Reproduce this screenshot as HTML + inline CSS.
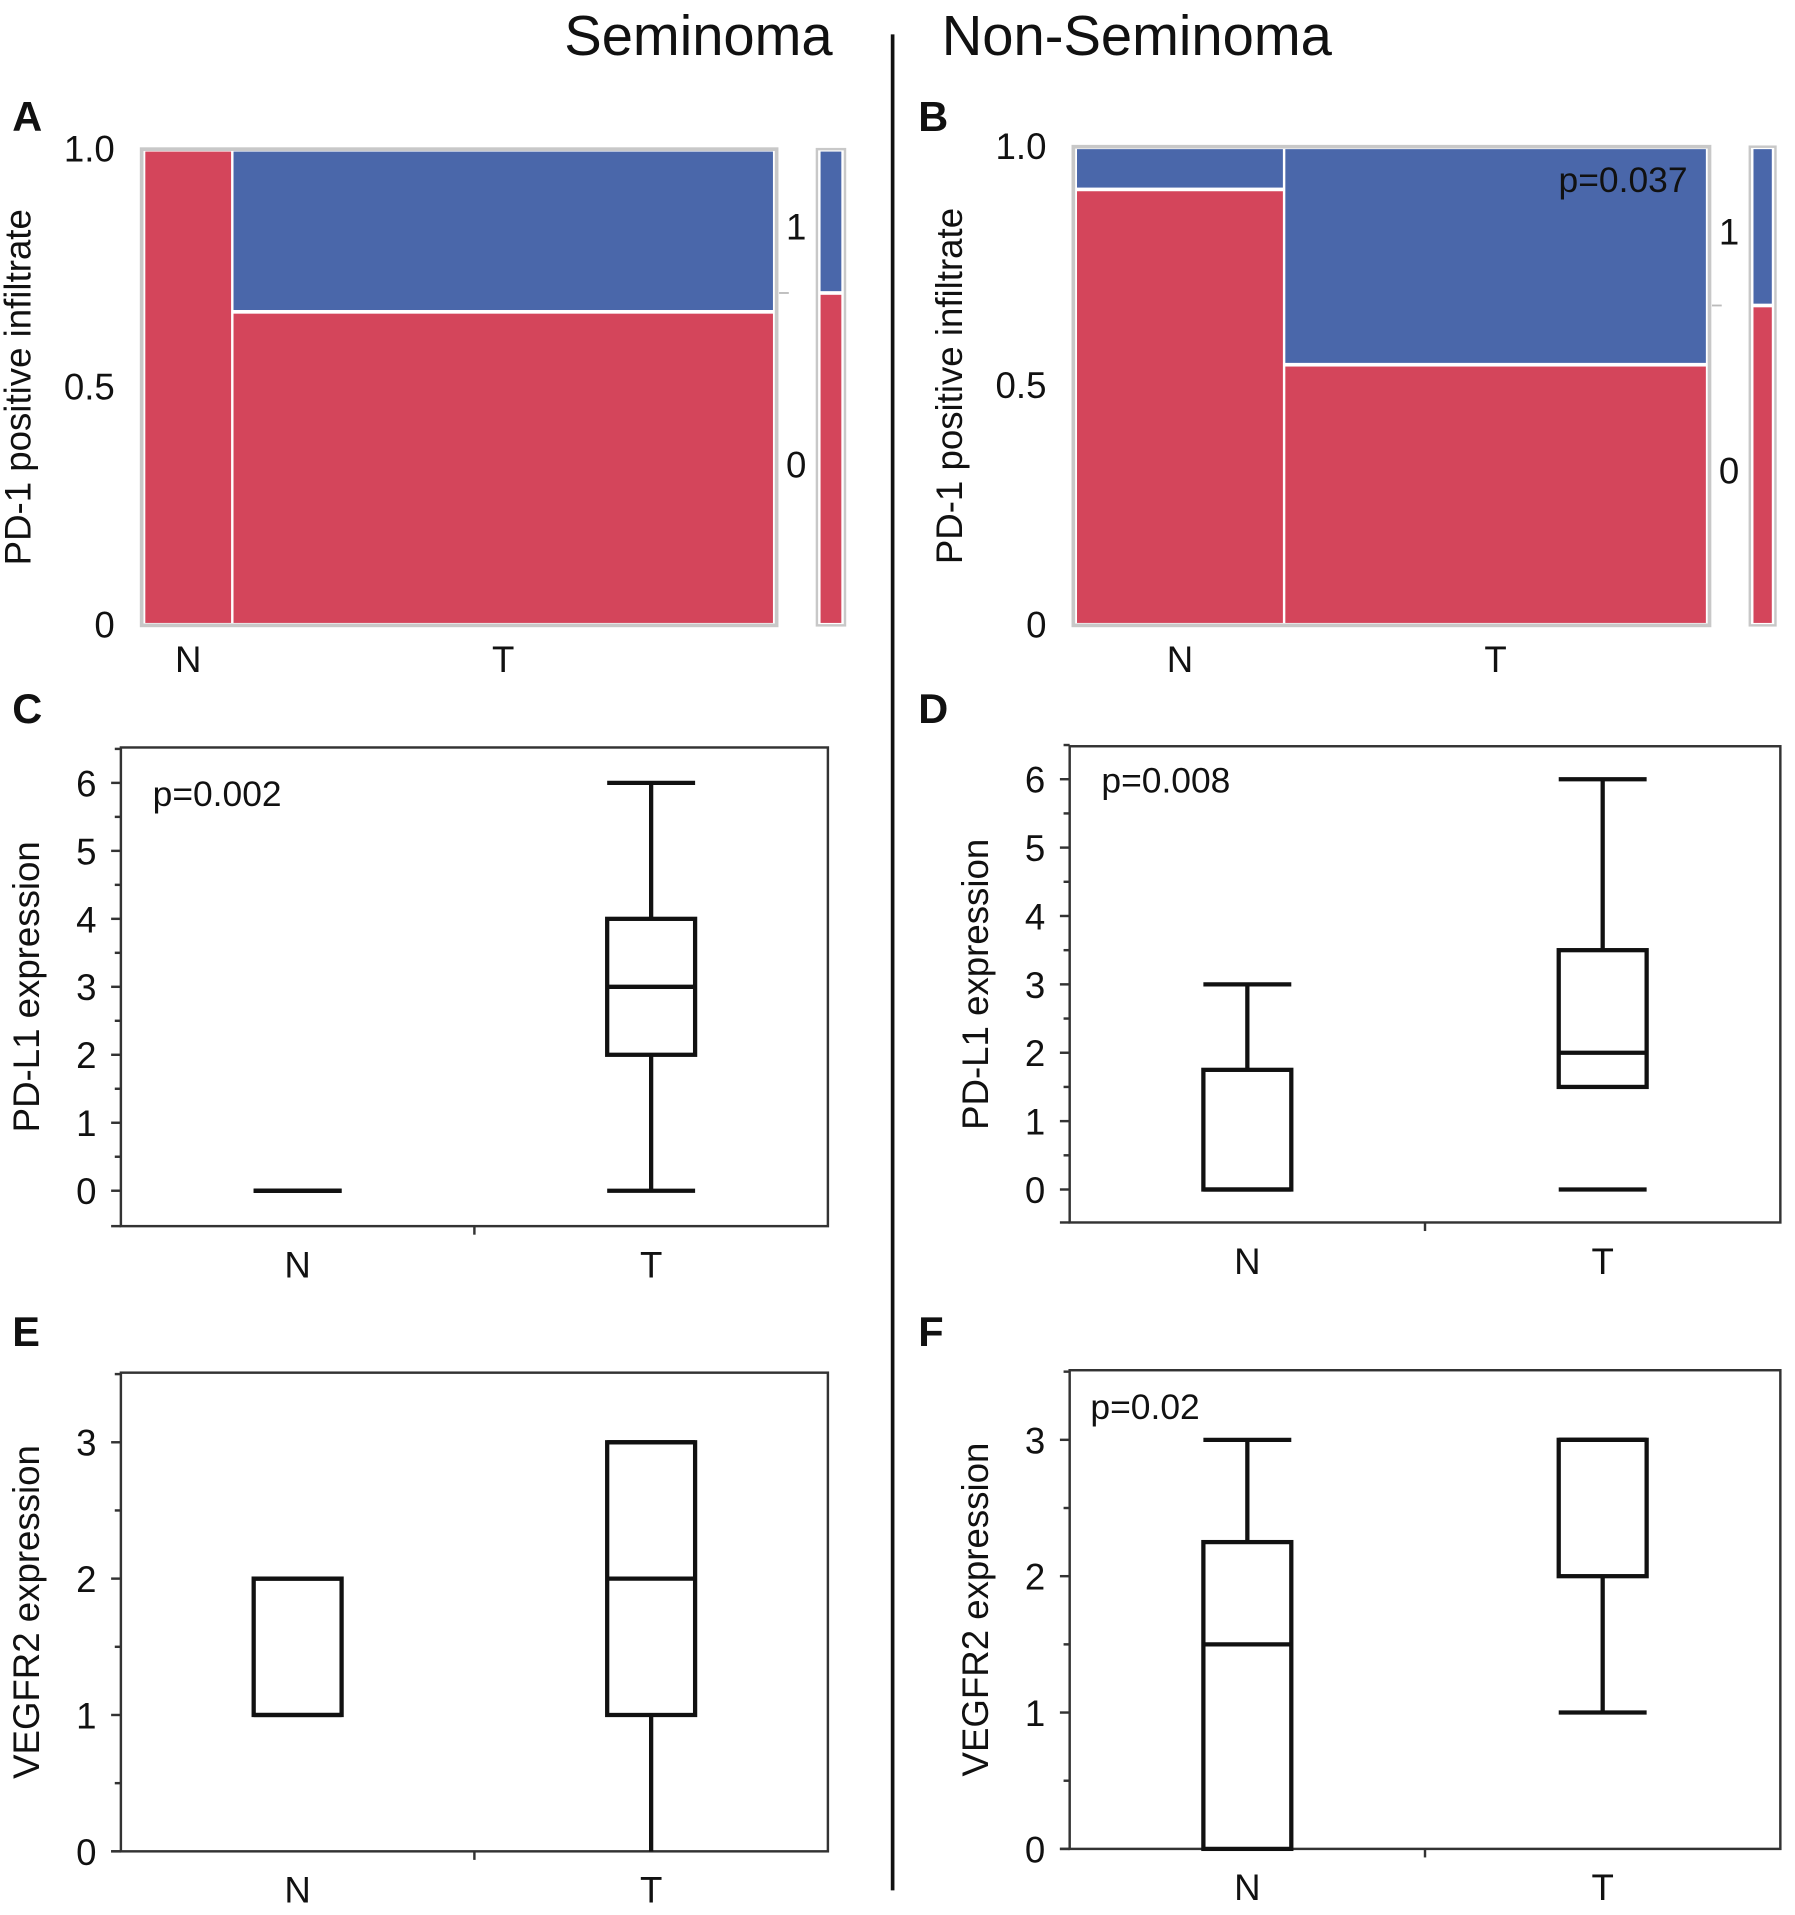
<!DOCTYPE html>
<html><head><meta charset="utf-8"><style>
html,body{margin:0;padding:0;background:#fff}
svg{display:block}
text{font-family:"Liberation Sans",Arial,sans-serif;fill:#111}
</style></head><body>
<svg id="fig" width="1795" height="1915" viewBox="0 0 1470 1568" xmlns="http://www.w3.org/2000/svg">
<text x="572" y="45" font-size="46" text-anchor="middle">Seminoma</text>
<text x="931" y="45" font-size="46" text-anchor="middle">Non-Seminoma</text>
<line x1="731" y1="28" x2="731" y2="1548" stroke="#111" stroke-width="3"/>
<text x="10" y="107" font-size="34" font-weight="bold">A</text>
<text x="752" y="107" font-size="34" font-weight="bold">B</text>
<text x="10" y="592" font-size="34" font-weight="bold">C</text>
<text x="752" y="592" font-size="34" font-weight="bold">D</text>
<text x="10" y="1102" font-size="34" font-weight="bold">E</text>
<text x="752" y="1102" font-size="34" font-weight="bold">F</text>
</svg>
<script>
// Mosaic data: fraction of samples in N column, blue (1) share per column, overall blue share
const mosaicGroups = ['N','T'];
const mosaicA_widthN = 0.14;
const mosaicA_blue = [0.0, 0.34];
const mosaicA_overall = 0.30;
const mosaicB_widthN = 0.33;
const mosaicB_blue = [0.085, 0.455];
const mosaicB_overall = 0.33;
const mosaicTicks = ['0','0.5','1.0'];
const mosaicTickVals = [0,0.5,1];

// Box plot data: [min whisker, q1, median, q3, max whisker]
const boxCats = ['N','T'];
const boxC_N = [0,0,0,0,0];
const boxC_T = [0,2,3,4,6];
const boxD_N = [0,0,0,1.75,3];
const boxD_T = [0,1.5,2,3.5,6];
const boxE_N = [1,1,1,2,2];
const boxE_T = [0,1,2,3,3];
const boxF_N = [0,0,1.5,2.25,3];
const boxF_T = [1,2,3,3,3];
const ticksPDL1 = [0,1,2,3,4,5,6];
const ticksVEGF = [0,1,2,3];

const NS='http://www.w3.org/2000/svg';
const svg=document.getElementById('fig');
function mk(tag,attrs,parent){const e=document.createElementNS(NS,tag);for(const k in attrs)e.setAttribute(k,attrs[k]);(parent||svg).appendChild(e);return e;}

function mosaic(o){
  const g=mk('g',{});
  
  
  const y=v=>o.y1-(o.y1-o.y0)*v;
  const W=o.x1-o.x0;
  mk('rect',{x:o.x0,y:o.y0,width:W,height:o.y1-o.y0,fill:'#fff',stroke:'#c8c8c8','stroke-width':3},g);
  const widths=[o.wN,1-o.wN];
  let cx=o.x0+2;
  const inner=W-4;
  for(let i=0;i<2;i++){
    const w=inner*widths[i];
    const b=o.blue[i];
    const yTop=o.y0+2, yBot=o.y1-2, H=yBot-yTop;
    const ySplit=yTop+H*b;
    if(b>0){const r=mk('rect',{x:cx+1,y:yTop,width:w-2,height:ySplit-yTop-1.5,fill:'#4a67aa'},g);
      
      }
    const r2=mk('rect',{x:cx+1,y:ySplit+(b>0?1.5:0),width:w-2,height:yBot-ySplit-(b>0?1.5:0),fill:'#d4455b'},g);
    
    
    const t=mk('text',{x:cx+w/2,y:550,'font-size':30,'text-anchor':'middle'},g);t.textContent=mosaicGroups[i];
    
    
    cx+=w;
  }
  mk('rect',{x:o.sx,y:o.y0,width:o.sw,height:o.y1-o.y0,fill:'#fff',stroke:'#c8c8c8','stroke-width':2},g);
  const sH=o.y1-o.y0-4, sSplit=o.y0+2+sH*o.overall;
  const sb=mk('rect',{x:o.sx+3,y:o.y0+2,width:o.sw-6,height:sSplit-o.y0-3.5,fill:'#4a67aa'},g);
  
  
  const sr=mk('rect',{x:o.sx+3,y:sSplit+1.5,width:o.sw-6,height:o.y1-2-sSplit-1.5,fill:'#d4455b'},g);
  
  
  mk('line',{x1:o.x1+2,x2:o.x1+10,y1:sSplit,y2:sSplit,stroke:'#bbb','stroke-width':1.5},g);
  const l1=mk('text',{x:o.sx-17,y:(o.y0+sSplit)/2+15,'font-size':30,'text-anchor':'middle'},g);l1.textContent='1';
  const l0=mk('text',{x:o.sx-17,y:(sSplit+o.y1)/2+15,'font-size':30,'text-anchor':'middle'},g);l0.textContent='0';
  mosaicTickVals.forEach((v,i)=>{const t=mk('text',{x:o.x0-22,y:y(v)+10,'font-size':30,'text-anchor':'end'},g);t.textContent=mosaicTicks[i];});
  const at=mk('text',{transform:`translate(${o.x0-91},${(o.y0+o.y1)/2}) rotate(-90)`,'font-size':30,'text-anchor':'middle'},g);
  at.textContent='PD-1 positive infiltrate';
  
  
  if(o.p){const p=mk('text',{x:o.x1-18,y:o.y0+37,'font-size':29,'text-anchor':'end'},g);p.textContent=o.p;
    
    }
}
mosaic({name:'mosaic-a',x0:116,x1:636,y0:122,y1:512,wN:mosaicA_widthN,blue:mosaicA_blue,overall:mosaicA_overall,sx:669,sw:23});
mosaic({name:'mosaic-b',x0:879,x1:1400,y0:120,y1:512,wN:mosaicB_widthN,blue:mosaicB_blue,overall:mosaicB_overall,sx:1433,sw:21,p:'p=0.037'});

function boxplot(o){
  const g=mk('g',{});
  
  
  const y=v=>o.yZero-(o.yZero-o.yTopTick)*v/o.topTick;
  const x=i=>o.x0+(o.x1-o.x0)*(i===0?0.25:0.75);
  mk('rect',{x:o.x0,y:o.y0,width:o.x1-o.x0,height:o.y1-o.y0,fill:'none',stroke:'#333','stroke-width':2},g);
  for(let v=o.ticks[0]; v<=o.maxV+1e-9; v+=0.5){
    const major=Math.abs(v-Math.round(v))<1e-9 && v<=o.ticks[o.ticks.length-1];
    mk('line',{x1:o.x0-(major?8:5),x2:o.x0,y1:y(v),y2:y(v),stroke:'#333','stroke-width':2},g);
  }
  mk('line',{x1:o.x0-8,x2:o.x0,y1:o.y1,y2:o.y1,stroke:'#333','stroke-width':2},g);
  mk('line',{x1:(o.x0+o.x1)/2,x2:(o.x0+o.x1)/2,y1:o.y1,y2:o.y1+7,stroke:'#333','stroke-width':2},g);
  o.ticks.forEach(v=>{const t=mk('text',{x:o.x0-20,y:y(v)+11,'font-size':30,'text-anchor':'end'},g);t.textContent=String(v);});
  const at=mk('text',{transform:`translate(${o.x0-67},${(o.y0+o.y1)/2}) rotate(-90)`,'font-size':30,'text-anchor':'middle'},g);
  at.textContent=o.title;
  
  
  boxCats.forEach((c,i)=>{
    const t=mk('text',{x:x(i),y:o.y1+42,'font-size':30,'text-anchor':'middle'},g);t.textContent=c;
    
    
    const d=o.data[i], cx=x(i), hw=36;
    const bg=mk('g',{stroke:'#111','stroke-width':3.5,fill:'none'},g);
    
    
    if(d[4]>d[3]){mk('line',{x1:cx,x2:cx,y1:y(d[3]),y2:y(d[4])},bg);}
    mk('line',{x1:cx-hw,x2:cx+hw,y1:y(d[4]),y2:y(d[4])},bg);
    if(d[0]<d[1] && !o.noLowStem?.[i]){mk('line',{x1:cx,x2:cx,y1:y(d[1]),y2:y(d[0])},bg);}
    if(o.lowCap[i]) mk('line',{x1:cx-hw,x2:cx+hw,y1:y(d[0]),y2:y(d[0])},bg);
    if(d[3]>d[1]) mk('rect',{x:cx-hw,y:y(d[3]),width:2*hw,height:y(d[1])-y(d[3])},bg);
    mk('line',{x1:cx-hw,x2:cx+hw,y1:y(d[2]),y2:y(d[2])},bg);
  });
  if(o.p){const p=mk('text',{x:o.px,y:o.py,'font-size':29},g);p.textContent=o.p;
    
    }
}
boxplot({name:'boxplot-c',x0:99,x1:678,y0:612,y1:1004,yZero:975,yTopTick:641,topTick:6,maxV:6.5,ticks:ticksPDL1,title:'PD-L1 expression',data:[boxC_N,boxC_T],lowCap:[true,true],p:'p=0.002',px:125,py:660});
boxplot({name:'boxplot-d',x0:876,x1:1458,y0:611,y1:1001,yZero:974,yTopTick:638,topTick:6,maxV:6.5,ticks:ticksPDL1,title:'PD-L1 expression',data:[boxD_N,boxD_T],lowCap:[false,true],noLowStem:[false,true],p:'p=0.008',px:902,py:649});
boxplot({name:'boxplot-e',x0:99,x1:678,y0:1124,y1:1516,yZero:1516,yTopTick:1181,topTick:3,maxV:3.5,ticks:ticksVEGF,title:'VEGFR2 expression',data:[boxE_N,boxE_T],lowCap:[false,false]});
boxplot({name:'boxplot-f',x0:876,x1:1458,y0:1122,y1:1514,yZero:1514,yTopTick:1179,topTick:3,maxV:3.5,ticks:ticksVEGF,title:'VEGFR2 expression',data:[boxF_N,boxF_T],lowCap:[false,true],p:'p=0.02',px:893,py:1162});
</script>
</body></html>
